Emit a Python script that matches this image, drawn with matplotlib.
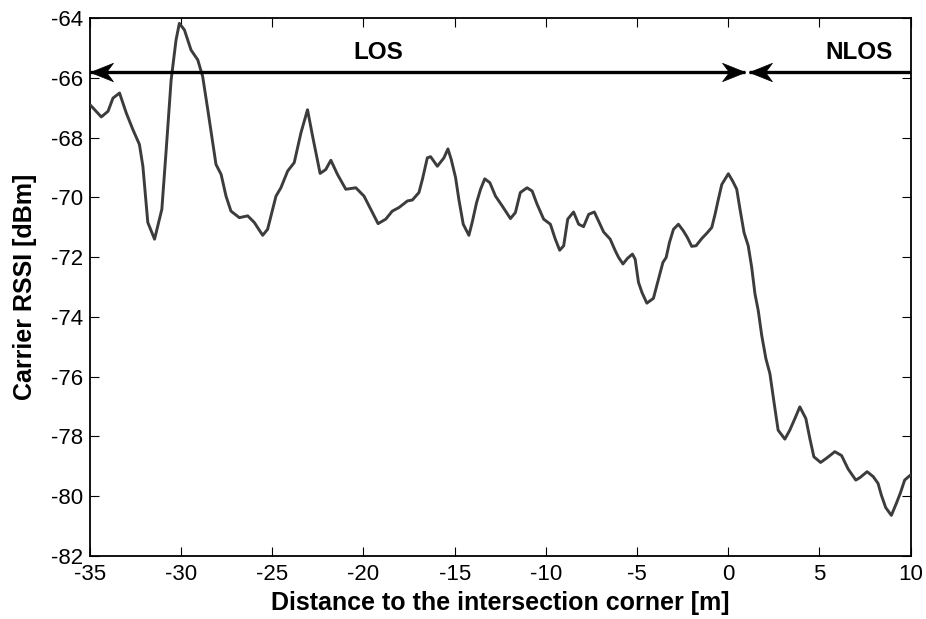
import matplotlib
matplotlib.use("Agg")
import matplotlib.pyplot as plt
import numpy as np
from matplotlib.path import Path

# ---- data ----
distance_m = [
    -35.00, -34.38, -34.01, -33.74, -33.38, -33.01, -32.65, -32.29, -32.10, -31.83,
    -31.46, -31.06, -30.82, -30.55, -30.28, -30.10, -29.82, -29.46, -29.09, -28.82,
    -28.54, -28.27, -28.09, -27.81, -27.54, -27.27, -26.81, -26.35, -25.99, -25.53,
    -25.26, -24.80, -24.53, -24.16, -23.80, -23.43, -23.07, -22.79, -22.61, -22.38,
    -22.07, -21.79, -21.43, -20.97, -20.42, -19.97, -19.60, -19.20, -18.78, -18.42,
    -18.05, -17.59, -17.32, -16.96, -16.77, -16.50, -16.32, -15.95, -15.59, -15.37,
    -15.19, -14.95, -14.77, -14.53, -14.22, -14.04, -13.80, -13.58, -13.35, -13.07,
    -12.76, -12.39, -11.94, -11.67, -11.40, -11.03, -10.75, -10.48, -10.12, -9.75,
    -9.48, -9.24, -9.02, -8.80, -8.48, -8.20, -7.93, -7.65, -7.34, -7.11,
    -6.83, -6.47, -6.19, -6.01, -5.77, -5.52, -5.25, -5.10, -4.92, -4.73,
    -4.46, -4.10, -3.82, -3.58, -3.40, -3.22, -3.00, -2.73, -2.46, -2.24,
    -2.00, -1.76, -1.45, -1.17, -0.90, -0.72, -0.54, -0.35, 0.01, 0.25,
    0.47, 0.65, 0.87, 1.10, 1.29, 1.47, 1.65, 1.84, 2.07, 2.29,
    2.51, 2.74, 3.11, 3.38, 3.66, 3.93, 4.26, 4.48, 4.70, 5.07,
    5.39, 5.85, 6.22, 6.58, 7.00, 7.22, 7.62, 7.95, 8.22, 8.40,
    8.64, 8.95, 9.23, 9.44, 9.68, 10.00,
]
rssi_dbm = [
    -66.90, -67.31, -67.12, -66.68, -66.51, -67.18, -67.73, -68.23, -68.96, -70.84,
    -71.40, -70.40, -68.40, -66.07, -64.73, -64.18, -64.40, -65.07, -65.40, -65.96,
    -67.07, -68.18, -68.90, -69.23, -69.96, -70.46, -70.68, -70.62, -70.84, -71.27,
    -71.07, -69.96, -69.68, -69.12, -68.84, -67.84, -67.07, -67.96, -68.51, -69.20,
    -69.07, -68.76, -69.23, -69.73, -69.68, -69.96, -70.40, -70.88, -70.73, -70.46,
    -70.34, -70.12, -70.09, -69.84, -69.40, -68.68, -68.64, -68.96, -68.68, -68.38,
    -68.73, -69.34, -70.07, -70.90, -71.27, -70.84, -70.18, -69.73, -69.38, -69.51,
    -69.96, -70.29, -70.71, -70.51, -69.84, -69.68, -69.79, -70.23, -70.73, -70.90,
    -71.40, -71.77, -71.62, -70.73, -70.49, -70.90, -70.98, -70.57, -70.49, -70.79,
    -71.16, -71.40, -71.79, -72.01, -72.23, -72.04, -71.90, -72.07, -72.84, -73.18,
    -73.54, -73.38, -72.73, -72.18, -72.01, -71.51, -71.07, -70.90, -71.12, -71.34,
    -71.64, -71.62, -71.38, -71.20, -71.01, -70.57, -70.07, -69.57, -69.21, -69.46,
    -69.73, -70.40, -71.18, -71.62, -72.34, -73.23, -73.79, -74.62, -75.40, -75.90,
    -76.84, -77.79, -78.09, -77.79, -77.40, -77.01, -77.40, -78.07, -78.68, -78.87,
    -78.73, -78.51, -78.64, -79.09, -79.46, -79.38, -79.18, -79.34, -79.57, -79.96,
    -80.38, -80.64, -80.23, -79.90, -79.46, -79.29,
]

x_ticks = [-35, -30, -25, -20, -15, -10, -5, 0, 5, 10]
y_ticks = [-82, -80, -78, -76, -74, -72, -70, -68, -66, -64]

region_labels = ["LOS", "NLOS"]
region_label_x = [-19.2, 7.2]
region_spans = [(-35.0, 0.92), (1.12, 10.0)]
arrow_level = -65.8
label_level = -65.15

plt.rcParams['font.family'] = ['Liberation Sans', 'DejaVu Sans']

fig = plt.figure(figsize=(9.26, 6.19), dpi=100)
W, H = 926, 619
ax = fig.add_axes([90 / W, 1 - 556 / H, (910.5 - 90) / W, (556 - 18) / H])

ax.plot(distance_m, rssi_dbm, color='#3c3c3c', lw=2.1, solid_joinstyle='round',
        solid_capstyle='round', zorder=3)

# arrowhead markers (tip at the data point)
left_head = Path([(0, 0), (1, 0.40), (0.70, 0), (1, -0.40), (0, 0)],
                 [Path.MOVETO, Path.LINETO, Path.LINETO, Path.LINETO, Path.CLOSEPOLY])
right_head = Path([(0, 0), (-1, 0.40), (-0.70, 0), (-1, -0.40), (0, 0)],
                  [Path.MOVETO, Path.LINETO, Path.LINETO, Path.LINETO, Path.CLOSEPOLY])

for i, (x0, x1) in enumerate(region_spans):
    ax.plot([x0, x1], [arrow_level, arrow_level], color='black', lw=2.4,
            solid_capstyle='butt', zorder=4)
    ax.plot([x0], [arrow_level], marker=left_head, markersize=33,
            color='black', markeredgewidth=0.5, zorder=5, clip_on=False)
    if i == 0:
        ax.plot([x1], [arrow_level], marker=right_head, markersize=33,
                color='black', markeredgewidth=0.5, zorder=5, clip_on=False)

for lbl, lx in zip(region_labels, region_label_x):
    ax.text(lx, label_level, lbl, ha='center', va='center', fontsize=17.5,
            fontweight='bold', color='black')

ax.set_xlim(-35, 10)
ax.set_ylim(-82, -64)
ax.set_xticks(x_ticks)
ax.set_yticks(y_ticks)
ax.set_xticklabels([str(t) for t in x_ticks])
ax.set_yticklabels([str(t) for t in y_ticks])
ax.tick_params(direction='in', length=6.5, width=0.8, top=True, right=True,
               labelsize=16, pad=5, colors='black')
ax.tick_params(axis='x', pad=6)
for s in ax.spines.values():
    s.set_linewidth(1.3)
    s.set_color('black')

ax.set_xlabel('Distance to the intersection corner [m]', fontsize=18,
              fontweight='bold', labelpad=4)
ax.set_ylabel('Carrier RSSI [dBm]', fontsize=18, fontweight='bold', labelpad=10)

fig.savefig('out.png', dpi=100)
